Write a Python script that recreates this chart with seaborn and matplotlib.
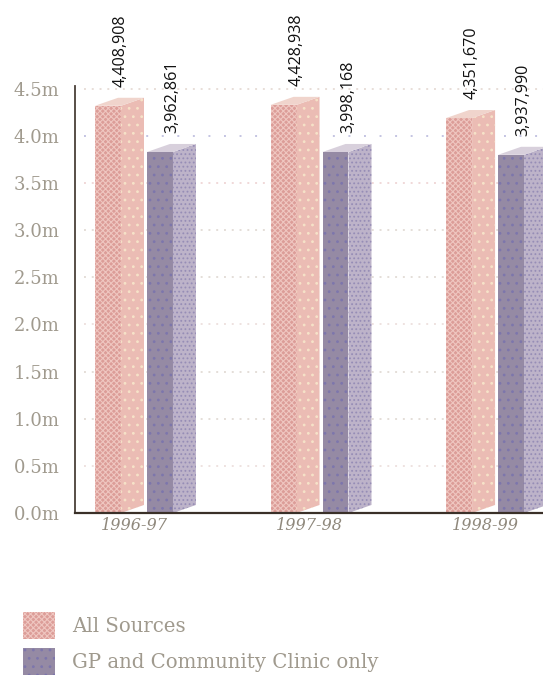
import matplotlib
matplotlib.use('Agg')
import matplotlib.pyplot as plt
import pandas as pd
import seaborn as sns
from matplotlib.patches import Patch, Polygon

sns.set_style('white')
plt.rcParams['hatch.linewidth'] = 0.8

years = ['1996-97', '1997-98', '1998-99']
series_names = ['All Sources', 'GP and Community Clinic only']

# printed numbers
all_sources = [4408908, 4428938, 4351670]
gp_clinic = [3962861, 3998168, 3937990]

# heights of the front faces as drawn in the picture (millions)
all_sources_front = [4.32, 4.33, 4.19]
gp_clinic_front = [3.83, 3.83, 3.80]

y_ticks = [0, 0.5, 1, 1.5, 2, 2.5, 3, 3.5, 4, 4.5]
y_labels = ['0.0m', '0.5m', '1.0m', '1.5m', '2.0m', '2.5m', '3.0m', '3.5m', '4.0m', '4.5m']

df = pd.DataFrame({
    'year': years * 2,
    'series': [series_names[0]] * 3 + [series_names[1]] * 3,
    'front': all_sources_front + gp_clinic_front,
})

front_cols = ['#dc9d98', '#958aa4']
side_cols = ['#ebbcb4', '#bdb3c9']
top_cols = ['#f0d4cc', '#d8d0dc']
hatch_cols = ['#efc6c0', '#7d76ac']
side_hatch_cols = ['#f6e2c8', '#968db6']
front_hatch = ['xxxxxx', '..']
side_hatch = ['..', '....']
depth_x, depth_y = 0.131, 0.085

fig = plt.figure(figsize=(5.43, 6.76), dpi=100)
ax = fig.add_axes([75 / 543, 1 - 513 / 676, 468 / 543, 427 / 676])

sns.barplot(data=df, x='year', y='front', hue='series', hue_order=series_names,
            palette=front_cols, saturation=1, width=0.592, gap=0.5, linewidth=0,
            legend=False, zorder=3, ax=ax)

ax.set_xlim(-0.336, 2.33)
ax.set_ylim(0, 4.53)

# gridlines, dotted
grid_cols = ['#e4ded8', '#eee2e0', '#e4ded8', '#e4ded8', '#eee2e0', '#e4ded8', '#e4ded8', '#f0d8d8', '#c4c4e2', '#e8deD8']
for t, c in zip(y_ticks[1:], grid_cols[1:]):
    dots = (0, (1, 7)) if t == 4 else (0, (1, 3))
    ax.plot([0.02, 1], [t, t], color=c, lw=1.4, ls=dots, zorder=1,
            transform=ax.get_yaxis_transform())

for i, container in enumerate(ax.containers):
    printed = all_sources if i == 0 else gp_clinic
    for bar, val in zip(container.patches, printed):
        x0, w, h = bar.get_x(), bar.get_width(), bar.get_height()
        x1 = x0 + w
        bar.set_hatch(front_hatch[i])
        bar.set_edgecolor(hatch_cols[i])
        side = Polygon([(x1, 0), (x1 + depth_x, depth_y), (x1 + depth_x, h + depth_y), (x1, h)],
                       facecolor=side_cols[i], edgecolor=side_hatch_cols[i], hatch=side_hatch[i],
                       lw=0, zorder=3)
        top = Polygon([(x0, h), (x1, h), (x1 + depth_x, h + depth_y), (x0 + depth_x, h + depth_y)],
                      facecolor=top_cols[i], edgecolor='none', zorder=3)
        ax.add_patch(side)
        ax.add_patch(top)
        ax.annotate(f'{val:,}', xy=(x0, h), xytext=(18.5, 13.5), textcoords='offset points',
                    rotation=90, ha='center', va='bottom', fontsize=11.6,
                    family='Open Sans', color='#111111', annotation_clip=False)

sns.despine(ax=ax)
ax.spines['left'].set_color('#4a4038')
ax.spines['left'].set_linewidth(1.3)
ax.spines['bottom'].set_color('#3a3028')
ax.spines['bottom'].set_linewidth(1.6)
for s in ax.spines.values():
    s.set_zorder(5)

ax.set_xlabel('')
ax.set_ylabel('')
ax.set_yticks(y_ticks)
ax.set_yticklabels(y_labels, family='DejaVu Serif', fontsize=13, color='#a09a8e')
ax.tick_params(axis='y', length=0, pad=11)
ax.set_xticks(range(3))
ax.set_xticklabels(years, family='DejaVu Serif', style='italic', fontsize=11.6, color='#8f887c')
ax.tick_params(axis='x', length=0, pad=3)

handles = [Patch(facecolor=front_cols[i], edgecolor=hatch_cols[i], hatch=front_hatch[i], lw=0)
           for i in range(2)]
leg = fig.legend(handles, series_names, loc='lower left', bbox_to_anchor=(23 / 543, 1 / 676),
                 borderaxespad=0, borderpad=0, frameon=False, handlelength=1.6, handleheight=1.75,
                 handletextpad=0.9, labelspacing=0.42,
                 prop={'family': 'DejaVu Serif', 'size': 14.2})
for t in leg.get_texts():
    t.set_color('#a09a8e')

fig.savefig('out.png', dpi=100)
